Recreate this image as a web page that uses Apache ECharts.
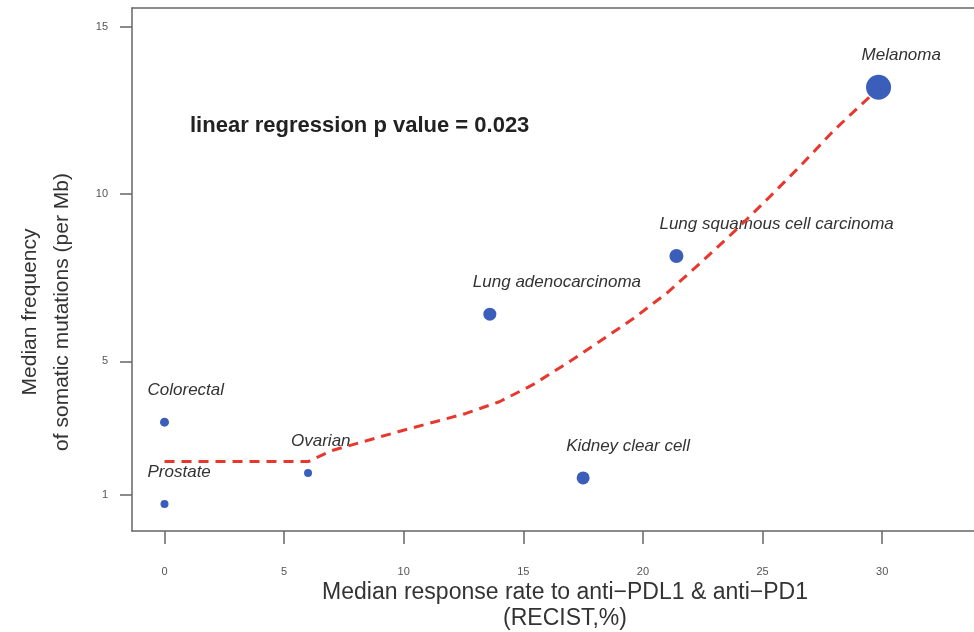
<!DOCTYPE html>
<html>
<head>
<meta charset="utf-8">
<script src="https://cdn.jsdelivr.net/npm/echarts@6/dist/echarts.min.js"></script>
<style>
html,body{margin:0;padding:0;background:#fff;}
#chart{width:974px;height:632px;}
</style>
</head>
<body>
<div id="chart"></div>
<script>
// ---------- DATA ----------
const cancerTypes = ['Melanoma','Lung squamous cell carcinoma','Lung adenocarcinoma','Kidney clear cell','Ovarian','Colorectal','Prostate'];
const responseRate = [29.85, 21.4, 13.6, 17.5, 6.0, 0, 0];          // x: median response rate (%)
const mutationFreq = [13.2, 8.15, 6.41, 1.51, 1.66, 3.18, 0.73];    // y: median somatic mutations per Mb
const fitX = [0, 6.0, 7.0, 9.8, 12.6, 14.0, 15.4, 16.8, 18.2, 19.6, 21.0, 22.4, 23.8, 25.2, 26.6, 28.0, 29.65];
const fitY = [2.0, 2.0, 2.33, 2.9, 3.44, 3.79, 4.3, 4.93, 5.6, 6.28, 7.04, 7.94, 8.87, 9.85, 10.86, 11.92, 13.03];
const xTicks = [0, 5, 10, 15, 20, 25, 30];
const yTicks = [1, 5, 10, 15];
const annotationText = 'linear regression p value = 0.023';
const xTitle = 'Median response rate to anti\u2212PDL1 & anti\u2212PD1\n(RECIST,%)';
const yTitle = 'Median frequency\nof somatic mutations (per Mb)';

// ---------- STYLE ----------
const markerDiameters = [25, 14, 13, 13, 8, 9, 8];
const FONT = 'Liberation Sans, Arial, Helvetica, sans-serif';
const BOX = {color: '#666', width: 1.5};

const chart = echarts.init(document.getElementById('chart'));

const scatterData = cancerTypes.map((name, i) => ({
  name: name,
  value: [responseRate[i], mutationFreq[i]],
  symbolSize: markerDiameters[i]
}));
const lineData = fitX.map((x, i) => [x, fitY[i]]);

chart.setOption({
  animation: false,
  backgroundColor: '#fff',
  grid: {left: 132, top: 8, right: 0, bottom: 101, show: false},
  xAxis: [
    {
      type: 'value', min: -1.359, max: 33.84, position: 'bottom',
      splitLine: {show: false},
      axisLine: {show: true, onZero: false, lineStyle: BOX},
      axisTick: {show: true, customValues: xTicks, length: 13, inside: false, lineStyle: BOX},
      axisLabel: {show: true, customValues: xTicks, margin: 35, color: '#555', fontSize: 11, fontFamily: FONT}
    },
    {
      type: 'value', min: -1.359, max: 33.84, position: 'top',
      splitLine: {show: false},
      axisLine: {show: true, onZero: false, lineStyle: BOX},
      axisTick: {show: false}, axisLabel: {show: false}
    }
  ],
  yAxis: {
    type: 'value', min: -0.077, max: 15.57, position: 'left',
    splitLine: {show: false},
    axisLine: {show: true, onZero: false, lineStyle: BOX},
    axisTick: {show: true, customValues: yTicks, length: 12, inside: false, lineStyle: BOX},
    axisLabel: {show: true, customValues: yTicks, margin: 24, color: '#555', fontSize: 11, fontFamily: FONT}
  },
  graphic: [
    {
      type: 'text', left: 190, top: 115, z: 10,
      style: {text: annotationText, font: 'bold 22px ' + FONT, fill: '#222'}
    },
    {
      type: 'text', x: 565, y: 580, z: 10,
      style: {text: xTitle, font: '23px ' + FONT, fill: '#333', textAlign: 'center', textVerticalAlign: 'top', lineHeight: 26}
    },
    {
      type: 'text', x: 46, y: 312, rotation: Math.PI / 2, z: 10,
      style: {text: yTitle, font: '21px ' + FONT, fill: '#333', textAlign: 'center', textVerticalAlign: 'middle', lineHeight: 32}
    }
  ],
  series: [
    {
      type: 'scatter',
      data: scatterData,
      itemStyle: {color: '#3A5EB9', opacity: 1},
      z: 2,
      label: {
        show: true, position: 'inside', align: 'left', verticalAlign: 'middle',
        offset: [-17, -32],
        formatter: p => p.name,
        fontStyle: 'italic', fontSize: 17, color: '#333', fontFamily: FONT
      }
    },
    {
      type: 'line',
      data: lineData,
      showSymbol: false, symbol: 'none', smooth: false,
      lineStyle: {color: '#E8382E', width: 3, type: [10, 7]},
      z: 3
    }
  ]
});
</script>
</body>
</html>
